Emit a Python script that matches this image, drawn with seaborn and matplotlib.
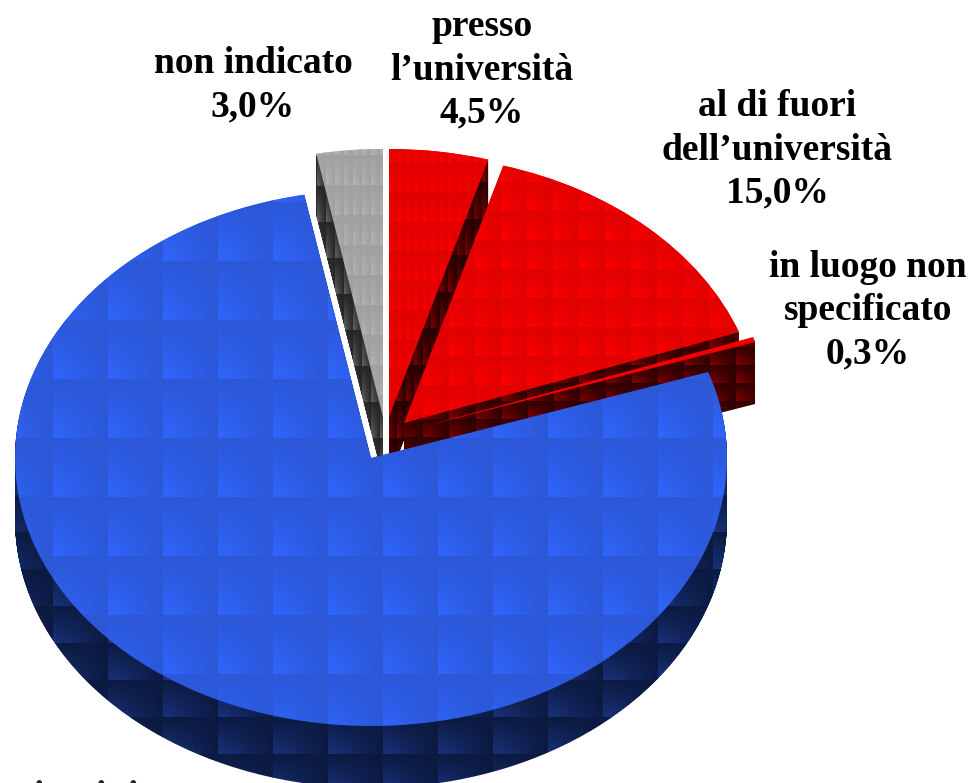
import matplotlib
matplotlib.use("Agg")
import matplotlib.pyplot as plt
from matplotlib.path import Path
import numpy as np
import seaborn as sns

# clockwise from the top; the big blue slice has its label cut off by the image edge
labels = [
    "presso\nl’università\n4,5%",
    "al di fuori\ndell’università\n15,0%",
    "in luogo non\nspecificato\n0,3%",
    "",
    "non indicato\n3,0%",
]
shares = [4.5, 15.0, 0.3, 77.2, 3.0]

WIDTH, HEIGHT = 973, 783
RX, RY = 356.0, 268.0
DEPTH = 62
BLUE_X, BLUE_Y = 371.0, 458.0

# apex of each slice in pixels, colours and tile size/origin of top and side
styles = [
    dict(apex=(389, 417), top=("#e00000", "#ff0000"), side=("#280000", "#820000"),
         tile=(8.5, 29.5), org=(389, 163), wall=(8.5, 36.5), wall_org=(389, 365)),
    dict(apex=(404, 423), top=("#e00000", "#ff0000"), side=("#300000", "#860000"),
         tile=(26, 29), org=(501, 182), wall=(26, 18), wall_org=(501, 365)),
    dict(apex=(418, 428), top=("#f00000", "#ff0000"), side=("#300000", "#860000"),
         tile=(26, 29), org=(502, 365), wall=(26, 18), wall_org=(502, 365)),
    dict(apex=(BLUE_X, BLUE_Y), top=("#2c58d7", "#3066ff"), side=("#0c1a41", "#19327d"),
         tile=(55, 59), org=(108, 261), wall=(55, 37), wall_org=(108, 680)),
    dict(apex=(383, 417), top=("#a0a0a0", "#b6b6b6"), side=("#262626", "#666666"),
         tile=(9, 30), org=(317, 185), wall=(9, 36), wall_org=(317, 222)),
]
# back to front
draw_order = [4, 0, 1, 2, 3]

sns.set_theme(style="white")
plt.rcParams["font.family"] = ["Liberation Serif", "DejaVu Serif"]


def to_unit(x, y):
    return (x - BLUE_X) / RX, (BLUE_Y - y) / RY


def tile_image(colors, tile, origin):
    low, high = [np.array(c) for c in sns.color_palette(list(colors), 2)]
    xx, yy = np.meshgrid(np.arange(WIDTH) + 0.5, np.arange(HEIGHT) + 0.5)
    u = ((xx - origin[0]) / tile[0]) % 1
    v = ((yy - origin[1]) / tile[1]) % 1
    t = ((1 - u) * v)[..., None]
    return low + (high - low) * t


fig = plt.figure(figsize=(WIDTH / 100, HEIGHT / 100), dpi=100)
ax = fig.add_axes([0, 0, 1, 1])
wedges, _ = ax.pie(shares, startangle=90, counterclock=False, radius=1,
                   wedgeprops=dict(linewidth=0, zorder=1))
ax.set_aspect("auto")
x0, y1 = to_unit(0, 0)
x1, y0 = to_unit(WIDTH, HEIGHT)
extent = (x0, x1, y0, y1)

for z, i in enumerate(draw_order):
    style = styles[i]
    wedge = wedges[i]
    wedge.set_center(to_unit(*style["apex"]))
    wedge.set_facecolor(style["top"][1])
    top_path = wedge.get_path()

    # side = the top face stacked downwards pixel by pixel
    stack = [Path(top_path.vertices - [0, k / RY], top_path.codes) for k in range(1, DEPTH + 1)]
    side_path = Path.make_compound_path(*stack)

    side = ax.imshow(tile_image(style["side"], style["wall"], style["wall_org"]),
                     extent=extent, aspect="auto", interpolation="nearest", zorder=2 + 2 * z)
    side.set_clip_path(side_path, ax.transData)
    top = ax.imshow(tile_image(style["top"], style["tile"], style["org"]),
                    extent=extent, aspect="auto", interpolation="nearest", zorder=3 + 2 * z)
    top.set_clip_path(top_path, ax.transData)

ax.set_xlim(x0, x1)
ax.set_ylim(y0, y1)
ax.axis("off")

label_pos = [(482, 70), (777, 150), (868, 311), None, (253, 85)]
for text, pos in zip(labels, label_pos):
    if pos is None:
        continue
    fig.text(pos[0] / WIDTH, 1 - pos[1] / HEIGHT, text, ha="center", va="center",
             fontsize=27, fontweight="bold", color="black", linespacing=1.3, zorder=30)

# only the tops of the blue slice's first line show at the bottom edge
for dot_x in [38, 100, 132]:
    fig.text(dot_x / WIDTH, 1 - 807 / HEIGHT, "i", ha="center", va="baseline",
             fontsize=27, fontweight="bold")

fig.savefig("out.png", dpi=100, facecolor="white")
